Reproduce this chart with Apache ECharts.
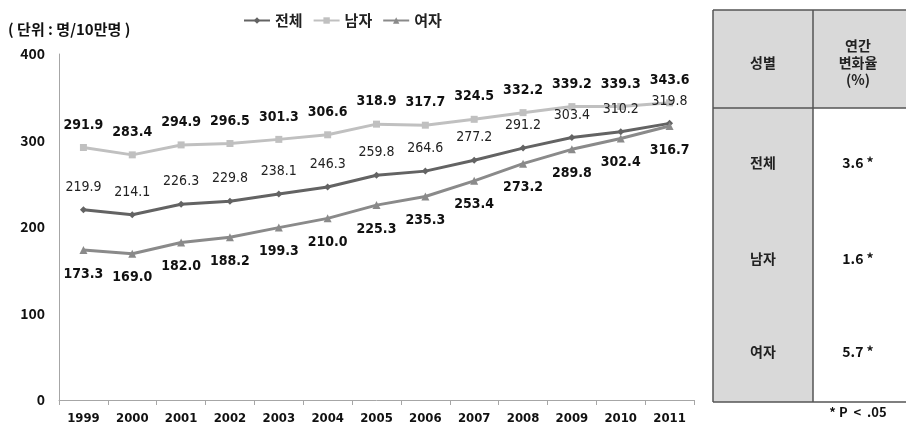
<!DOCTYPE html>
<html><head><meta charset="utf-8">
<script src="https://cdn.jsdelivr.net/npm/echarts@6/dist/echarts.min.js"></script>
<style>html,body{margin:0;padding:0;background:#fff;}#c{width:906px;height:430px;}</style>
</head><body><div id="c"></div>
<script>
var years = ['1999','2000','2001','2002','2003','2004','2005','2006','2007','2008','2009','2010','2011'];
var total = [219.9,214.1,226.3,229.8,238.1,246.3,259.8,264.6,277.2,291.2,303.4,310.2,319.8];
var male = [291.9,283.4,294.9,296.5,301.3,306.6,318.9,317.7,324.5,332.2,339.2,339.3,343.6];
var female = [173.3,169.0,182.0,188.2,199.3,210.0,225.3,235.3,253.4,273.2,289.8,302.4,316.7];
var seriesNames = ['전체','남자','여자'];
var yTicks = [0,100,200,300,400];
var tableHeader = ['성별','연간\n변화율\n(%)'];
var tableRates = ['3.6 *','1.6 *','5.7 *'];
var unitText = '( 단위 : 명/10만명 )';
var footnote = '* P  <  .05';

var KR = '"Noto Sans CJK KR", sans-serif';
var NUM = '"DejaVu Sans Condensed", "Liberation Sans Narrow", "Liberation Sans", sans-serif';
var chart = echarts.init(document.getElementById('c'));

var graphics = [
  {type:'text', left:8, top:22, style:{text:unitText, font:'bold 15px '+KR, fill:'#111'}},
  // table
  {type:'rect', shape:{x:713,y:10,width:100,height:392}, style:{fill:'#d9d9d9', stroke:null}},
  {type:'rect', shape:{x:813,y:10,width:100,height:98}, style:{fill:'#d9d9d9', stroke:null}},
  {type:'line', shape:{x1:713,y1:10,x2:906,y2:10}, style:{stroke:'#555',lineWidth:1.5}},
  {type:'line', shape:{x1:713,y1:108,x2:906,y2:108}, style:{stroke:'#555',lineWidth:1.5}},
  {type:'line', shape:{x1:713,y1:402,x2:906,y2:402}, style:{stroke:'#555',lineWidth:1.5}},
  {type:'line', shape:{x1:713,y1:10,x2:713,y2:402}, style:{stroke:'#555',lineWidth:1.5}},
  {type:'line', shape:{x1:813,y1:10,x2:813,y2:402}, style:{stroke:'#555',lineWidth:1.5}},
  {type:'text', x:763, y:63, style:{text:tableHeader[0], font:'bold 14px '+KR, fill:'#222', align:'center', verticalAlign:'middle'}},
  {type:'text', x:858, y:63, style:{text:tableHeader[1], font:'bold 14px '+KR, fill:'#222', align:'center', verticalAlign:'middle', lineHeight:17}},
  {type:'text', x:858, y:412, style:{text:footnote, font:'bold 13px '+KR, fill:'#111', align:'center', verticalAlign:'middle'}}
];
var rowY = [163,259,352];
for (var i=0;i<3;i++){
  graphics.push({type:'text', x:763, y:rowY[i], style:{text:seriesNames[i], font:'bold 14px '+KR, fill:'#222', align:'center', verticalAlign:'middle'}});
  graphics.push({type:'text', x:858, y:rowY[i], style:{text:tableRates[i], font:'bold 14px '+KR, fill:'#111', align:'center', verticalAlign:'middle'}});
}

chart.setOption({
  animation:false,
  backgroundColor:'#fff',
  grid:{left:59, right:212, top:54, bottom:30, containLabel:false},
  legend:{
    data:seriesNames, left:238, top:8, itemWidth:26, itemHeight:8, itemGap:10,
    textStyle:{fontFamily:'Noto Sans CJK KR', fontSize:15, fontWeight:'bold', color:'#222'}
  },
  xAxis:{
    type:'category', data:years, boundaryGap:true,
    axisLine:{lineStyle:{color:'#a6a6a6', width:1}},
    axisTick:{show:true, alignWithLabel:false, length:5, lineStyle:{color:'#a6a6a6'}},
    axisLabel:{fontFamily:NUM, fontSize:13, fontWeight:'bold', color:'#111', margin:12}
  },
  yAxis:{
    type:'value', min:0, max:400, interval:100,
    splitLine:{show:false},
    axisLine:{show:true, lineStyle:{color:'#a6a6a6'}},
    axisTick:{show:false},
    axisLabel:{fontFamily:KR, fontSize:14, fontWeight:'bold', color:'#111', margin:14}
  },
  series:[
    {name:seriesNames[0], type:'line', data:total, symbol:'diamond', symbolSize:7,
     lineStyle:{color:'#636363', width:3}, itemStyle:{color:'#636363'},
     label:{show:true, position:'top', distance:12, formatter:function(p){return p.value.toFixed(1);},
       fontFamily:NUM, fontSize:14, color:'#222'}},
    {name:seriesNames[1], type:'line', data:male, symbol:'rect', symbolSize:7,
     lineStyle:{color:'#c0c0c0', width:3}, itemStyle:{color:'#c0c0c0'},
     label:{show:true, position:'top', distance:12, formatter:function(p){return p.value.toFixed(1);},
       fontFamily:NUM, fontSize:14, fontWeight:'bold', color:'#111'}},
    {name:seriesNames[2], type:'line', data:female, symbol:'triangle', symbolSize:8,
     lineStyle:{color:'#8a8a8a', width:3}, itemStyle:{color:'#8a8a8a'},
     label:{show:true, position:'bottom', distance:13, formatter:function(p){return p.value.toFixed(1);},
       fontFamily:NUM, fontSize:14, fontWeight:'bold', color:'#111'}}
  ],
  graphic:graphics
});
</script></body></html>
